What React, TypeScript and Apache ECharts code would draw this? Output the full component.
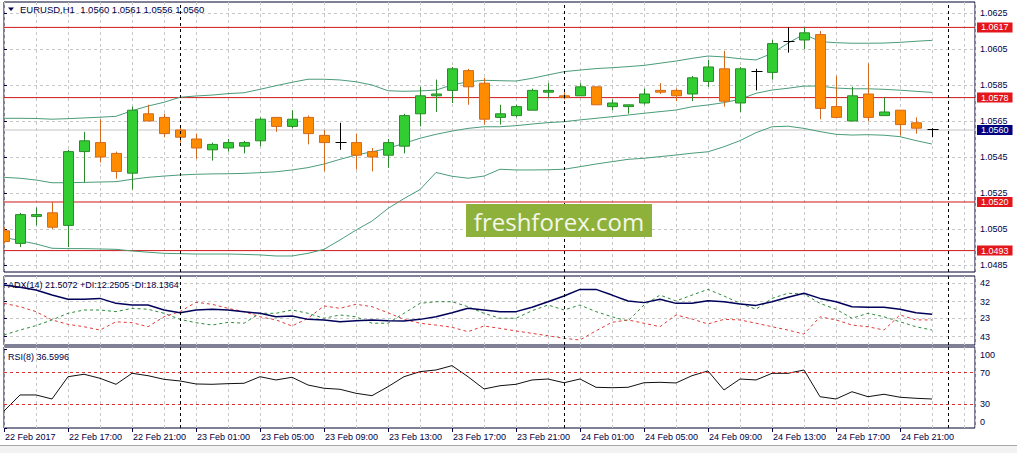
import React, { useEffect, useRef } from "react";
import * as echarts from "echarts";

// ---------- data ----------
const timeLabels = [
  "22 Feb 2017", "22 Feb 17:00", "22 Feb 21:00", "23 Feb 01:00", "23 Feb 05:00",
  "23 Feb 09:00", "23 Feb 13:00", "23 Feb 17:00", "23 Feb 21:00", "24 Feb 01:00",
  "24 Feb 05:00", "24 Feb 09:00", "24 Feb 13:00", "24 Feb 17:00", "24 Feb 21:00",
];
const timeLabelBars = [0, 4, 8, 12, 16, 20, 24, 28, 32, 36, 40, 44, 48, 52, 56];
const daySeparatorBars = [11, 35, 59];

const opens = [
  1.0504, 1.0497, 1.0512, 1.0514, 1.0507, 1.0548, 1.0553, 1.0547, 1.0536, 1.0569,
  1.0567, 1.0560, 1.0555, 1.0549, 1.0550, 1.0551, 1.0554, 1.0567, 1.0562, 1.0567,
  1.0557, 1.0553, 1.0553, 1.0548, 1.0546, 1.0551, 1.0569, 1.0579, 1.0582, 1.0593,
  1.0586, 1.0567, 1.0568, 1.0571, 1.0581, 1.0579, 1.0579, 1.0584, 1.0573, 1.0573,
  1.0575, 1.0582, 1.0582, 1.0580, 1.0587, 1.0594, 1.0575, 1.0592, 1.0592, 1.0609,
  1.0610, 1.0613, 1.0573, 1.0565, 1.0580, 1.0568, 1.0571, 1.0564, 1.0560,
];
const closes = [
  1.0498, 1.0513, 1.0513, 1.0506, 1.0548, 1.0554, 1.0545, 1.0537, 1.0571, 1.0565,
  1.0558, 1.0556, 1.0550, 1.0552, 1.0553, 1.0553, 1.0566, 1.0562, 1.0566, 1.0558,
  1.0553, 1.0553, 1.0546, 1.0545, 1.0553, 1.0568, 1.0579, 1.0580, 1.0594, 1.0584,
  1.0566, 1.0569, 1.0573, 1.0582, 1.0582, 1.0578, 1.0584, 1.0574, 1.0575, 1.0574,
  1.0580, 1.0581, 1.0579, 1.0589, 1.0595, 1.0576, 1.0594, 1.0592, 1.0608, 1.0609,
  1.0614, 1.0572, 1.0567, 1.0579, 1.0567, 1.0570, 1.0563, 1.0561, 1.0560,
];
const highs = [
  1.0506, 1.0514, 1.0517, 1.0520, 1.0549, 1.0559, 1.0566, 1.0548, 1.0573, 1.0574,
  1.0569, 1.0562, 1.0558, 1.0553, 1.0555, 1.0554, 1.0567, 1.0567, 1.0571, 1.0568,
  1.0560, 1.0564, 1.0558, 1.0550, 1.0555, 1.0569, 1.0584, 1.0588, 1.0595, 1.0594,
  1.0589, 1.0574, 1.0574, 1.0583, 1.0586, 1.0581, 1.0586, 1.0584, 1.0577, 1.0574,
  1.0583, 1.0586, 1.0583, 1.0590, 1.0599, 1.0604, 1.0595, 1.0594, 1.0610, 1.0617,
  1.0617, 1.0615, 1.0590, 1.0584, 1.0597, 1.0578, 1.0571, 1.0567, 1.0561,
];
const lows = [
  1.0497, 1.0495, 1.0507, 1.0505, 1.0495, 1.0531, 1.0542, 1.0533, 1.0527, 1.0565,
  1.0556, 1.0553, 1.0544, 1.0543, 1.0548, 1.0547, 1.0551, 1.0559, 1.0561, 1.0552,
  1.0537, 1.0549, 1.0538, 1.0537, 1.0539, 1.0547, 1.0562, 1.0570, 1.0575, 1.0574,
  1.0563, 1.0563, 1.0567, 1.0571, 1.0578, 1.0577, 1.0579, 1.0574, 1.0571, 1.0569,
  1.0574, 1.0580, 1.0576, 1.0576, 1.0584, 1.0573, 1.0570, 1.0582, 1.0588, 1.0603,
  1.0605, 1.0566, 1.0567, 1.0565, 1.0565, 1.0568, 1.0557, 1.0558, 1.0556,
];

const bbUpper = [
  1.05665, 1.05665, 1.05664, 1.0566, 1.05663, 1.05667, 1.05671, 1.05676, 1.05707, 1.05733,
  1.05754, 1.05782, 1.05789, 1.05794, 1.05802, 1.05807, 1.05826, 1.05846, 1.05865, 1.05882,
  1.05882, 1.05878, 1.05868, 1.0585, 1.05818, 1.05815, 1.05817, 1.05822, 1.0585, 1.05868,
  1.05876, 1.05874, 1.05872, 1.05887, 1.05906, 1.05924, 1.05933, 1.05941, 1.05946, 1.05952,
  1.05959, 1.05971, 1.05983, 1.05998, 1.06011, 1.06006, 1.05996, 1.05989, 1.06026, 1.06082,
  1.06133, 1.06091, 1.06085, 1.06082, 1.06082, 1.06083, 1.06087, 1.06093, 1.06098,
];
const bbMiddle = [
  1.05337, 1.05332, 1.05322, 1.05307, 1.05307, 1.05309, 1.05311, 1.05313, 1.05326, 1.05337,
  1.05344, 1.0535, 1.05354, 1.05356, 1.05357, 1.05359, 1.05363, 1.05368, 1.05378, 1.05391,
  1.05411, 1.05437, 1.05461, 1.05479, 1.05498, 1.05526, 1.05554, 1.05576, 1.05594, 1.05609,
  1.05618, 1.05618, 1.05624, 1.05633, 1.05641, 1.05646, 1.05656, 1.05665, 1.05674, 1.05683,
  1.05693, 1.05702, 1.05711, 1.05729, 1.05739, 1.05752, 1.05771, 1.05804, 1.05822, 1.05832,
  1.05844, 1.05844, 1.05833, 1.05829, 1.05829, 1.05826, 1.05821, 1.05815, 1.05809,
];
const bbLower = [
  1.05004, 1.04985, 1.04967, 1.04943, 1.04941, 1.04941, 1.04939, 1.04937, 1.04928, 1.04921,
  1.04915, 1.04913, 1.04911, 1.04911, 1.04911, 1.04909, 1.04906, 1.049, 1.049, 1.04915,
  1.04937, 1.04989, 1.05044, 1.05094, 1.05164, 1.05219, 1.05269, 1.05364, 1.05343, 1.05332,
  1.05344, 1.05382, 1.05378, 1.05378, 1.05379, 1.05382, 1.05396, 1.05411, 1.05424, 1.05437,
  1.05443, 1.05452, 1.05461, 1.05471, 1.05479, 1.05507, 1.05541, 1.05585, 1.05618, 1.05621,
  1.05609, 1.05591, 1.05576, 1.05572, 1.05574, 1.05571, 1.05563, 1.05541, 1.05522,
];

const adx = [
  41.1, 39.8, 38.4, 35.6, 33.3, 33.3, 33.8, 31.1, 30.2, 30.2,
  27.5, 26.0, 27.5, 27.9, 27.5, 26.6, 25.7, 23.8, 24.2, 22.4,
  22.1, 21.1, 21.7, 22.1, 21.7, 21.5, 22.4, 23.8, 26.0, 28.4,
  27.5, 26.6, 26.6, 29.0, 32.0, 35.1, 38.7, 38.7, 35.6, 32.4,
  31.5, 33.3, 31.1, 31.1, 32.5, 32.0, 30.8, 30.0, 32.0, 34.4,
  36.6, 33.8, 32.0, 29.3, 29.0, 29.0, 27.9, 26.0, 25.2,
];
const plusDI = [
  13.9, 16.6, 19.0, 22.1, 25.7, 27.5, 27.5, 26.6, 28.4, 27.9,
  25.7, 22.4, 20.6, 19.3, 20.8, 20.3, 25.7, 25.7, 27.5, 25.7,
  23.0, 24.8, 23.8, 20.3, 20.3, 25.7, 31.1, 32.0, 32.0, 29.3,
  25.7, 23.0, 23.0, 27.1, 30.2, 27.5, 30.2, 26.6, 23.8, 21.5,
  30.2, 35.6, 32.4, 35.6, 38.7, 35.1, 31.1, 27.9, 33.8, 36.6,
  36.2, 31.1, 27.9, 23.0, 25.7, 23.8, 21.1, 18.4, 16.6,
];
const minusDI = [
  31.1, 29.3, 26.6, 22.1, 19.7, 18.4, 16.6, 21.1, 20.6, 18.4,
  23.8, 26.6, 31.7, 30.6, 28.4, 26.6, 23.8, 22.1, 18.8, 23.0,
  29.7, 28.4, 30.6, 29.3, 26.0, 22.4, 20.3, 19.3, 18.1, 15.7,
  18.8, 17.5, 16.1, 14.8, 13.5, 12.1, 11.2, 16.2, 20.8, 22.1,
  20.3, 18.4, 24.8, 22.6, 19.9, 22.4, 22.1, 20.3, 18.4, 16.6,
  14.4, 23.8, 22.1, 19.3, 18.4, 16.6, 24.8, 22.1, 22.1,
];
const rsi = [
  21.5, 41.8, 41.8, 36.7, 64.9, 68.0, 62.9, 55.3, 69.2, 66.2,
  61.6, 59.5, 55.7, 55.3, 56.1, 56.6, 64.9, 60.8, 64.2, 54.4,
  50.3, 49.0, 43.9, 40.9, 52.3, 64.9, 71.3, 73.4, 78.9, 64.9,
  49.4, 53.5, 55.3, 60.8, 62.0, 57.3, 62.0, 51.5, 51.0, 51.5,
  57.3, 57.8, 57.0, 66.2, 72.2, 48.1, 62.0, 60.8, 69.2, 69.2,
  73.4, 39.6, 36.7, 45.9, 39.6, 42.7, 38.9, 37.6, 36.7,
];

const priceTicks = [1.0485, 1.0505, 1.0525, 1.0545, 1.0565, 1.0585, 1.0605, 1.0625];
const levelPrices = [1.0617, 1.0578, 1.052, 1.0493];
const lastPrice = 1.056;
const adxTicks = [42, 32, 23, 13];
const adxTickLabels = ["42", "32", "23", "43"];
const rsiTicks = [100, 70, 30, 0];
const rsiLevels = [70, 30];

const headerText = "EURUSD,H1  1.0560 1.0561 1.0556 1.0560";
const adxText = "ADX(14) 21.5072 +DI:12.2505 -DI:18.1364";
const rsiText = "RSI(8) 36.5996";
const watermarkText = "freshforex.com";

// ---------- styling ----------
const FONT = "Liberation Sans";
const TXT = "#000046";
const BORDER = "#00002E";
const BB_COLOR = "#4A9C7A";
const LEVEL_COLOR = "#D01818";
const X_MIN = 0;
const X_MAX = 60.6875;
const gridSplit = { show: true, lineStyle: { color: "#C8C8C8", type: [3, 3], width: 1 } };

function xBase(gridIndex: number) {
  return {
    type: "value",
    gridIndex,
    min: X_MIN,
    max: X_MAX,
    interval: 2,
    axisLine: { show: false },
    axisTick: { show: false },
    axisLabel: { show: false },
    splitLine: gridSplit,
  };
}

const pairs = (arr: number[]) => arr.map((v, i) => [i, v]);

function separatorMarkLine() {
  return {
    silent: true,
    symbol: ["none", "none"],
    animation: false,
    lineStyle: { color: "#000000", type: [3, 3], width: 1 },
    label: { show: false },
    data: daySeparatorBars.map((b) => ({ xAxis: b })),
  };
}

function horizontalSeries(name: string, price: number, color: string, labelBg: string, z: number) {
  return {
    type: "line",
    name,
    xAxisIndex: 0,
    yAxisIndex: 0,
    data: [[X_MIN, price], [X_MAX, price]],
    symbol: "none",
    silent: true,
    z,
    lineStyle: { color, width: 1, type: "solid" },
    endLabel: {
      show: true,
      distance: 2,
      formatter: () => price.toFixed(4),
      color: "#ffffff",
      backgroundColor: labelBg,
      padding: [1, 4, 0, 4],
      fontFamily: FONT,
      fontSize: 9,
    },
  };
}

function buildOption(): any {
  const candleData = opens.map((o, i) => [i, o, closes[i], lows[i], highs[i]]);
  const axisLabelBase = { color: TXT, fontFamily: FONT, fontSize: 9 };

  return {
    animation: false,
    backgroundColor: "#ffffff",
    grid: [
      { left: 4, right: 42, top: 2, height: 270, show: true, borderColor: BORDER, borderWidth: 1, backgroundColor: "#ffffff", containLabel: false },
      { left: 4, right: 42, top: 276, height: 69, show: true, borderColor: BORDER, borderWidth: 1, backgroundColor: "#ffffff", containLabel: false },
      { left: 4, right: 42, top: 347, height: 81, show: true, borderColor: BORDER, borderWidth: 1, backgroundColor: "#ffffff", containLabel: false },
    ],
    xAxis: [
      xBase(0),
      xBase(1),
      {
        type: "value",
        gridIndex: 2,
        min: X_MIN,
        max: X_MAX,
        axisLine: { show: false },
        axisTick: { show: true, customValues: timeLabelBars, length: 4, lineStyle: { color: TXT } },
        axisLabel: {
          ...axisLabelBase,
          show: true,
          customValues: timeLabelBars,
          formatter: (v: number) => {
            const k = timeLabelBars.indexOf(Math.round(v));
            return k >= 0 ? timeLabels[k] : "";
          },
          align: "left",
          margin: 4,
          padding: [0, 0, 0, 1],
        },
        splitLine: { show: false },
      },
      xBase(2),
    ],
    yAxis: [
      {
        type: "value",
        gridIndex: 0,
        position: "right",
        min: 1.048111,
        max: 1.063111,
        axisLine: { show: false },
        axisTick: { show: true, customValues: priceTicks, length: 3, lineStyle: { color: TXT } },
        axisLabel: { ...axisLabelBase, customValues: priceTicks, formatter: (v: number) => v.toFixed(4), margin: 5 },
        splitLine: gridSplit,
      },
      {
        type: "value",
        gridIndex: 1,
        position: "right",
        min: 8.47,
        max: 45.97,
        axisLine: { show: false },
        axisTick: { show: true, customValues: adxTicks, length: 3, lineStyle: { color: TXT } },
        axisLabel: {
          ...axisLabelBase,
          customValues: adxTicks,
          formatter: (v: number) => {
            const k = adxTicks.indexOf(Math.round(v));
            return k >= 0 ? adxTickLabels[k] : "";
          },
          margin: 5,
        },
        splitLine: gridSplit,
      },
      {
        type: "value",
        gridIndex: 2,
        position: "right",
        min: 0,
        max: 102.5,
        axisLine: { show: false },
        axisTick: { show: true, customValues: rsiTicks, length: 3, lineStyle: { color: TXT } },
        axisLabel: {
          customValues: rsiTicks,
          formatter: (v: number) => {
            const r = Math.round(v);
            if (r === 100) return "{top|" + r + "}";
            if (r === 0) return "{bot|" + r + "}";
            return "{mid|" + r + "}";
          },
          margin: 5,
          rich: {
            top: { ...axisLabelBase, padding: [12, 0, 0, 0] },
            bot: { ...axisLabelBase, padding: [0, 0, 13, 0] },
            mid: { ...axisLabelBase },
          },
        },
        splitLine: { show: false },
      },
    ],
    series: [
      horizontalSeries("last", lastPrice, "#C4C4C4", "#000080", 1),
      ...levelPrices.map((p, k) => horizontalSeries("level" + k, p, LEVEL_COLOR, "#E3161C", 1)),
      {
        type: "line",
        name: "bbUpper",
        xAxisIndex: 0,
        yAxisIndex: 0,
        data: pairs(bbUpper),
        symbol: "none",
        silent: true,
        z: 2,
        lineStyle: { color: BB_COLOR, width: 1 },
      },
      {
        type: "line",
        name: "bbMiddle",
        xAxisIndex: 0,
        yAxisIndex: 0,
        data: pairs(bbMiddle),
        symbol: "none",
        silent: true,
        z: 2,
        lineStyle: { color: BB_COLOR, width: 1 },
        markLine: separatorMarkLine(),
      },
      {
        type: "line",
        name: "bbLower",
        xAxisIndex: 0,
        yAxisIndex: 0,
        data: pairs(bbLower),
        symbol: "none",
        silent: true,
        z: 2,
        lineStyle: { color: BB_COLOR, width: 1 },
      },
      {
        type: "custom",
        name: "EURUSD",
        xAxisIndex: 0,
        yAxisIndex: 0,
        z: 3,
        silent: true,
        clip: true,
        data: candleData,
        encode: { x: 0, y: [1, 2, 3, 4] },
        renderItem: (params: any, api: any) => {
          const i = api.value(0);
          const o = api.value(1);
          const c = api.value(2);
          const l = api.value(3);
          const h = api.value(4);
          const pO = api.coord([i, o]);
          const yC = api.coord([i, c])[1];
          const yL = api.coord([i, l])[1];
          const yH = api.coord([i, h])[1];
          const x = Math.round(pO[0]) + 0.5;
          const doji = Math.abs(c - o) < 1e-9;
          const up = c > o;
          const stroke = doji ? "#000000" : up ? "#2A8A2A" : "#D2691E";
          const fill = up ? "#32CD32" : "#FF8C00";
          const children: any[] = [
            { type: "line", shape: { x1: x, y1: yH, x2: x, y2: yL }, style: { stroke, lineWidth: 1 } },
          ];
          if (doji) {
            const yy = Math.round(pO[1]) - 0.5;
            children.push({ type: "line", shape: { x1: x - 5, y1: yy, x2: x + 6, y2: yy }, style: { stroke, lineWidth: 1 } });
          } else {
            const top = Math.min(pO[1], yC);
            const bot = Math.max(pO[1], yC);
            children.push({
              type: "rect",
              shape: { x: x - 5, y: top, width: 10, height: Math.max(bot - top, 1) },
              style: { fill, stroke, lineWidth: 1 },
            });
          }
          const cs = params.coordSys;
          return {
            type: "group",
            children,
            clipPath: { type: "rect", shape: { x: cs.x, y: cs.y, width: cs.width, height: cs.height } },
          };
        },
      },
      {
        type: "line",
        name: "ADX",
        xAxisIndex: 1,
        yAxisIndex: 1,
        data: pairs(adx),
        symbol: "none",
        silent: true,
        z: 3,
        lineStyle: { color: "#00005A", width: 1.5 },
        markLine: separatorMarkLine(),
      },
      {
        type: "line",
        name: "+DI",
        xAxisIndex: 1,
        yAxisIndex: 1,
        data: pairs(plusDI),
        symbol: "none",
        silent: true,
        z: 2,
        lineStyle: { color: "#2E8B3A", width: 1, type: [3, 3] },
      },
      {
        type: "line",
        name: "-DI",
        xAxisIndex: 1,
        yAxisIndex: 1,
        data: pairs(minusDI),
        symbol: "none",
        silent: true,
        z: 2,
        lineStyle: { color: "#E03A3A", width: 1, type: [3, 3] },
      },
      {
        type: "line",
        name: "RSI",
        xAxisIndex: 2,
        yAxisIndex: 2,
        data: pairs(rsi),
        symbol: "none",
        silent: true,
        z: 3,
        lineStyle: { color: "#101010", width: 1 },
        markLine: separatorMarkLine(),
      },
      {
        type: "line",
        name: "RSI levels",
        xAxisIndex: 2,
        yAxisIndex: 2,
        data: [],
        symbol: "none",
        silent: true,
        z: 2,
        markLine: {
          silent: true,
          symbol: ["none", "none"],
          animation: false,
          lineStyle: { color: "#D83030", type: [3, 3], width: 1 },
          label: { show: false },
          data: rsiLevels.map((v) => ({ yAxis: v })),
        },
      },
    ],
    graphic: [
      {
        type: "polygon",
        z: 50,
        shape: { points: [[8, 7.5], [14, 7.5], [11, 11]] },
        style: { fill: TXT },
      },
      {
        type: "text",
        z: 50,
        x: 20,
        y: 9.5,
        style: { text: headerText, fontFamily: FONT, fontSize: 9.5, fill: TXT, verticalAlign: "middle" },
      },
      {
        type: "text",
        z: 50,
        x: 8,
        y: 285,
        style: { text: adxText, fontFamily: FONT, fontSize: 9, fill: TXT, verticalAlign: "middle" },
      },
      {
        type: "text",
        z: 50,
        x: 8,
        y: 357,
        style: { text: rsiText, fontFamily: FONT, fontSize: 9, fill: TXT, verticalAlign: "middle" },
      },
      {
        type: "rect",
        z: 60,
        shape: { x: 466, y: 204, width: 186, height: 33 },
        style: { fill: "#8DB13B" },
      },
      {
        type: "text",
        z: 61,
        x: 559,
        y: 221,
        style: {
          text: watermarkText,
          fontFamily: "Open Sans",
          fontSize: 24,
          fill: "#F4F7EA",
          align: "center",
          verticalAlign: "middle",
        },
      },
      {
        type: "rect",
        z: 40,
        shape: { x: 0, y: 446, width: 1017, height: 7 },
        style: { fill: "#F2F2F2" },
      },
      {
        type: "line",
        z: 41,
        shape: { x1: 0, y1: 445.5, x2: 1017, y2: 445.5 },
        style: { stroke: "#A8A8A8", lineWidth: 1 },
      },
    ],
  };
}

export default function App() {
  const ref = useRef<HTMLDivElement>(null);
  useEffect(() => {
    if (!ref.current) return;
    const chart = echarts.init(ref.current, undefined, { renderer: "svg" });
    chart.setOption(buildOption());
    return () => {
      chart.dispose();
    };
  }, []);
  return (
    <div
      ref={ref}
      style={{ position: "fixed", left: 0, top: 0, width: 1017, height: 453, background: "#ffffff" }}
    />
  );
}
